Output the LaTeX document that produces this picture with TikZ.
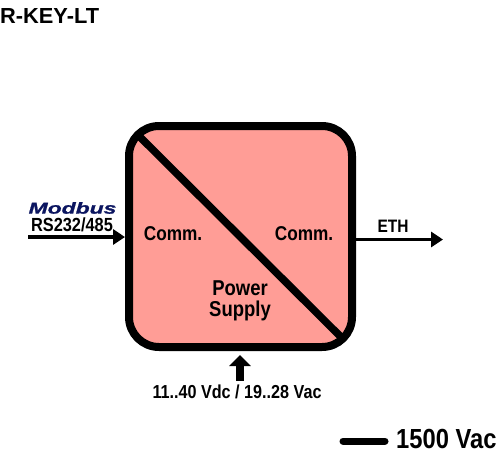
\documentclass[tikz,border=0pt]{standalone}
\usepackage{fontspec}
\setmainfont{Liberation Sans}
\newfontfamily\narrowbold[FakeStretch=0.86]{Liberation Sans Bold}
\newfontfamily\plainbold{Liberation Sans Bold}
\newfontfamily\widebold[FakeStretch=1.45,FakeBold=1.2]{Liberation Sans Bold Italic}
\usetikzlibrary{arrows.meta}
\definecolor{boxfill}{HTML}{FF9D96}
\definecolor{modbusblue}{HTML}{0B1560}
\tikzset{
  lbl/.style={inner sep=0pt,align=center,text=black,font=\narrowbold\fontsize{#1}{#1}\selectfont},
  lbl/.default=18,
  conn/.style={line width=4pt,draw=black,-{Triangle[length=12pt,width=15pt]}},
}
\begin{document}
\begin{tikzpicture}[x=1pt,y=-1pt]
\useasboundingbox (0,0) rectangle (500,458);
\node[inner sep=0pt,anchor=west,font=\plainbold\fontsize{21.8}{21.8}\selectfont] (title) at (0,16) {R-KEY-LT};
\draw[line width=8pt,fill=boxfill,rounded corners=30pt] (129,126) rectangle (352,347);
\coordinate (dA) at (137,134);
\coordinate (dB) at (344,340);
\draw[line width=7.5pt] (dA) -- (dB);
\node[lbl=20] (c1) at (173,234) {Comm.};
\node[lbl=20] (c2) at (304,234) {Comm.};
\node[lbl=21.5] (ps) at (240,301) {Power\\[-0.5pt]Supply};
\coordinate (inA) at (28,237);
\coordinate (inB) at (125,237);
\draw[conn] (inA) -- (inB);
\node[inner sep=0pt,text=modbusblue,font=\widebold\fontsize{15.8}{15.8}\selectfont] (mb) at (72.5,208) {Modbus};
\node[lbl=19] (rs) at (72,224.5) {RS232/485};
\coordinate (outA) at (356,239.5);
\coordinate (outB) at (443,239.5);
\draw[conn,line width=3.5pt] (outA) -- (outB);
\node[lbl=18] (eth) at (393,226.5) {ETH};
\coordinate (pwA) at (240,381);
\coordinate (pwB) at (240,355);
\draw[line width=8pt,draw=black,-{Triangle[length=11pt,width=21pt]}] (pwA) -- (pwB);
\node[lbl=18.8] (pw) at (237,391.5) {11..40 Vdc / 19..28 Vac};
\coordinate (isoA) at (343,441);
\coordinate (isoB) at (385,441);
\draw[line width=7pt,line cap=round] (isoA) -- (isoB);
\node[lbl=27.6,anchor=west] (iso) at (396,439) {1500 Vac};
\end{tikzpicture}
\end{document}
